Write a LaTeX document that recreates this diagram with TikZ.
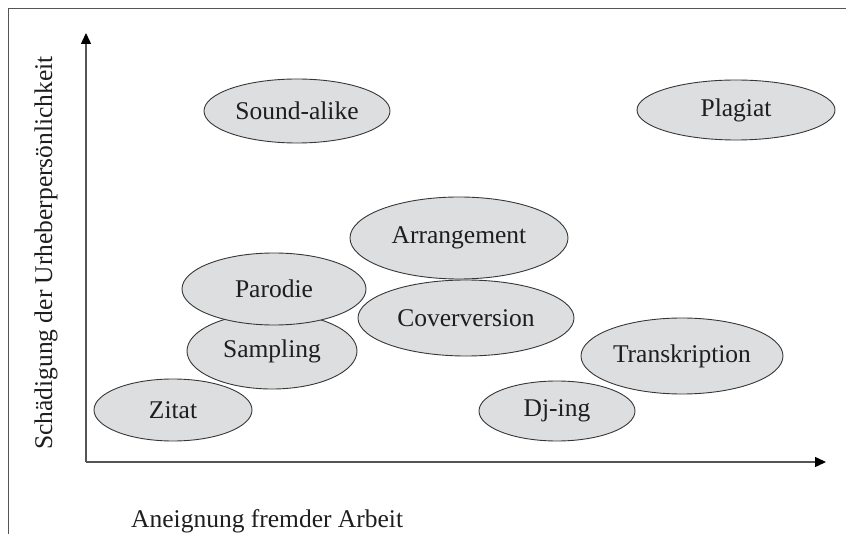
\documentclass[tikz,border=0pt]{standalone}
\usepackage{fontspec}
\setmainfont{Liberation Serif}
\usetikzlibrary{shapes.geometric,arrows.meta}
\definecolor{ellfill}{RGB}{221,222,224}
\definecolor{elldraw}{RGB}{55,55,55}
\definecolor{axiscol}{RGB}{85,85,85}
\definecolor{txtcol}{RGB}{30,30,30}
\tikzset{
  bubble/.style={ellipse, draw=elldraw, fill=ellfill, line width=0.9pt, inner sep=0pt,
    text=txtcol, font=\fontsize{25.5}{30}\selectfont},
  axisline/.style={draw=axiscol, line width=1.5pt, -{Triangle[length=11pt,width=10pt,fill=black,color=black]}},
  frameline/.style={draw=axiscol, line width=1.4pt},
  lbl/.style={text=txtcol, font=\fontsize{25.5}{30}\selectfont, inner sep=0pt}
}
\begin{document}
\begin{tikzpicture}[x=1pt,y=-1pt]
\useasboundingbox (0,0) rectangle (846,534);
% frame
\coordinate (fbl) at (8.5,534);
\coordinate (ftl) at (8.5,8.5);
\coordinate (ftr) at (846,8.5);
\draw[frameline] (fbl) -- (ftl) -- (ftr);
% axes
\coordinate (O) at (86,462);
\coordinate (ytip) at (86,33);
\coordinate (xtip) at (826,462);
\draw[axisline] (O) -- (ytip);
\draw[axisline] (O) -- (xtip);
% labels
\node[lbl, rotate=90, anchor=base] (ylab) at (52,253) {Schädigung der Urheberpersönlichkeit};
\node[lbl, anchor=base west] (xlab) at (131,527) {Aneignung fremder Arbeit};
% bubbles
\node[bubble, minimum width=186pt, minimum height=64pt] (sound) at (297,111) {Sound-alike};
\node[bubble, minimum width=198pt, minimum height=60pt] (plagiat) at (736,110) {Plagiat};
\node[bubble, minimum width=216pt, minimum height=76pt] (cover) at (466,318) {Coverversion};
\node[bubble, minimum width=218pt, minimum height=82pt] (arr) at (459,238) {Arrangement};
\node[bubble, minimum width=170pt, minimum height=76pt] (sampling) at (272,351) {Sampling};
\node[bubble, minimum width=184pt, minimum height=72pt] (parodie) at (274,289) {Parodie};
\node[bubble, minimum width=202pt, minimum height=76pt] (trans) at (682,356) {Transkription};
\node[bubble, minimum width=158pt, minimum height=62pt] (zitat) at (173,410) {Zitat};
\node[bubble, minimum width=156pt, minimum height=60pt] (djing) at (557,411) {Dj-ing};
\end{tikzpicture}
\end{document}
